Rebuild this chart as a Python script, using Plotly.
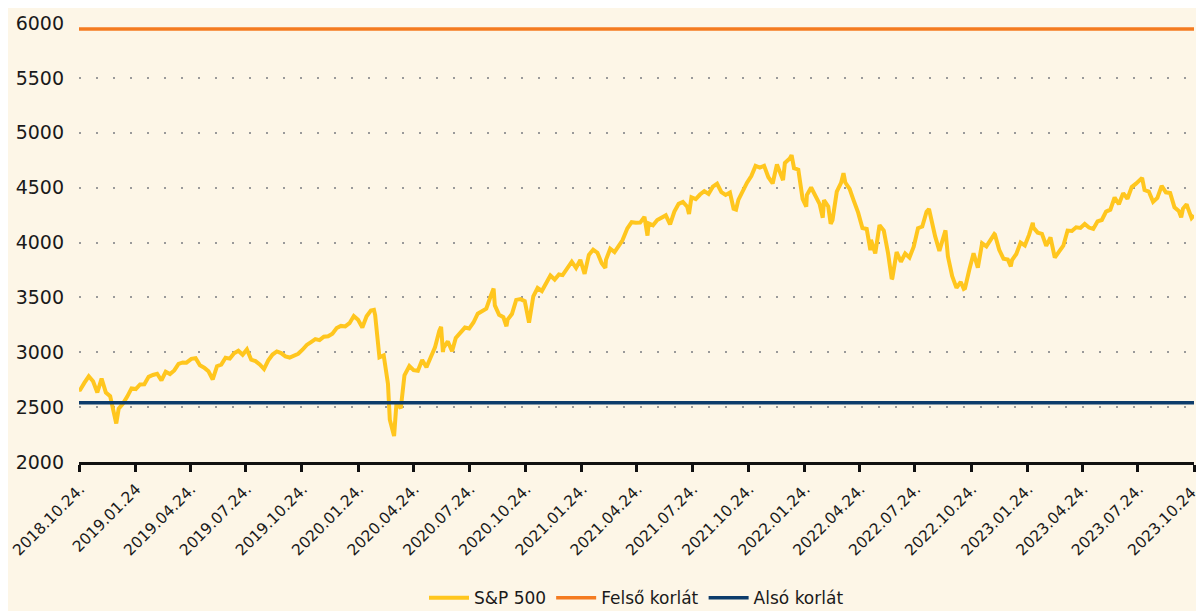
import plotly.graph_objects as go

dates = [
    "2018-10-24", "2018-10-26", "2018-11-02", "2018-11-09", "2018-11-16", "2018-11-23", "2018-11-30",
    "2018-12-07", "2018-12-14", "2018-12-21", "2018-12-24", "2018-12-28",
    "2019-01-04", "2019-01-11", "2019-01-18", "2019-01-25", "2019-02-01", "2019-02-08", "2019-02-15",
    "2019-02-22", "2019-03-01", "2019-03-08", "2019-03-15", "2019-03-22", "2019-03-29", "2019-04-05",
    "2019-04-12", "2019-04-18", "2019-04-26", "2019-05-03", "2019-05-10", "2019-05-17", "2019-05-24",
    "2019-05-31", "2019-06-07", "2019-06-14", "2019-06-21", "2019-06-28", "2019-07-05", "2019-07-12",
    "2019-07-19", "2019-07-26", "2019-08-02", "2019-08-09", "2019-08-16", "2019-08-23", "2019-08-30",
    "2019-09-06", "2019-09-13", "2019-09-20", "2019-09-27", "2019-10-04", "2019-10-11", "2019-10-18",
    "2019-10-25", "2019-11-01", "2019-11-08", "2019-11-15", "2019-11-22", "2019-11-29", "2019-12-06",
    "2019-12-13", "2019-12-20", "2019-12-27",
    "2020-01-03", "2020-01-10", "2020-01-17", "2020-01-24", "2020-01-31", "2020-02-07", "2020-02-14",
    "2020-02-19", "2020-02-21", "2020-02-28", "2020-03-06", "2020-03-13", "2020-03-16", "2020-03-20",
    "2020-03-23", "2020-03-27", "2020-04-03", "2020-04-09", "2020-04-17", "2020-04-24", "2020-05-01",
    "2020-05-08", "2020-05-15", "2020-05-22", "2020-05-29", "2020-06-05", "2020-06-08", "2020-06-11",
    "2020-06-12", "2020-06-19", "2020-06-26", "2020-07-02", "2020-07-10", "2020-07-17", "2020-07-24",
    "2020-07-31", "2020-08-07", "2020-08-14", "2020-08-21", "2020-08-28", "2020-09-02", "2020-09-04",
    "2020-09-11", "2020-09-18", "2020-09-23", "2020-09-25", "2020-10-02", "2020-10-09", "2020-10-16",
    "2020-10-23", "2020-10-30", "2020-11-06", "2020-11-13", "2020-11-20", "2020-11-27", "2020-12-04",
    "2020-12-11", "2020-12-18", "2020-12-24", "2020-12-31",
    "2021-01-08", "2021-01-15", "2021-01-22", "2021-01-29", "2021-02-05", "2021-02-12", "2021-02-19",
    "2021-02-26", "2021-03-04", "2021-03-05", "2021-03-12", "2021-03-19", "2021-03-26", "2021-04-01",
    "2021-04-09", "2021-04-16", "2021-04-23", "2021-04-30", "2021-05-07", "2021-05-12", "2021-05-14",
    "2021-05-21", "2021-05-28", "2021-06-04", "2021-06-11", "2021-06-18", "2021-06-25", "2021-07-02",
    "2021-07-09", "2021-07-16", "2021-07-19", "2021-07-23", "2021-07-30", "2021-08-06", "2021-08-13",
    "2021-08-20", "2021-08-27", "2021-09-03", "2021-09-10", "2021-09-17", "2021-09-24", "2021-09-30",
    "2021-10-04", "2021-10-08", "2021-10-15", "2021-10-22", "2021-10-29", "2021-11-05", "2021-11-12",
    "2021-11-19", "2021-11-26", "2021-11-30", "2021-12-03", "2021-12-10", "2021-12-17", "2021-12-20",
    "2021-12-23", "2021-12-31",
    "2022-01-03", "2022-01-07", "2022-01-14", "2022-01-21", "2022-01-27", "2022-01-28", "2022-02-04",
    "2022-02-11", "2022-02-18", "2022-02-23", "2022-02-25", "2022-03-04", "2022-03-08", "2022-03-11",
    "2022-03-18", "2022-03-25", "2022-03-29", "2022-04-01", "2022-04-08", "2022-04-14", "2022-04-22",
    "2022-04-29", "2022-05-06", "2022-05-12", "2022-05-13", "2022-05-20", "2022-05-27", "2022-06-03",
    "2022-06-10", "2022-06-16", "2022-06-17", "2022-06-24", "2022-07-01", "2022-07-08", "2022-07-15",
    "2022-07-22", "2022-07-29", "2022-08-05", "2022-08-12", "2022-08-16", "2022-08-19", "2022-08-26",
    "2022-09-02", "2022-09-09", "2022-09-12", "2022-09-16", "2022-09-23", "2022-09-30", "2022-10-07",
    "2022-10-12", "2022-10-14", "2022-10-21", "2022-10-28", "2022-11-04", "2022-11-11", "2022-11-18",
    "2022-11-25", "2022-12-01", "2022-12-02", "2022-12-09", "2022-12-16", "2022-12-23", "2022-12-28",
    "2022-12-30",
    "2023-01-06", "2023-01-13", "2023-01-20", "2023-01-27", "2023-02-02", "2023-02-03", "2023-02-10",
    "2023-02-17", "2023-02-24", "2023-03-03", "2023-03-10", "2023-03-17", "2023-03-24", "2023-03-31",
    "2023-04-07", "2023-04-14", "2023-04-21", "2023-04-28", "2023-05-05", "2023-05-12", "2023-05-19",
    "2023-05-26", "2023-06-02", "2023-06-09", "2023-06-16", "2023-06-23", "2023-06-30", "2023-07-07",
    "2023-07-14", "2023-07-21", "2023-07-28", "2023-07-31", "2023-08-04", "2023-08-11", "2023-08-18",
    "2023-08-25", "2023-09-01", "2023-09-08", "2023-09-15", "2023-09-22", "2023-09-29", "2023-10-03",
    "2023-10-06", "2023-10-12", "2023-10-13", "2023-10-20", "2023-10-24",
]

sp500 = [
    2656, 2658, 2723, 2781, 2736, 2633, 2760,
    2633, 2600, 2417, 2351, 2486,
    2532, 2596, 2671, 2665, 2707, 2708, 2776,
    2793, 2804, 2743, 2822, 2801, 2834, 2893,
    2907, 2905, 2940, 2946, 2881, 2860, 2826,
    2752, 2873, 2887, 2950, 2942, 2990, 3014,
    2977, 3026, 2932, 2919, 2889, 2847, 2926,
    2979, 3007, 2992, 2962, 2952, 2970, 2986,
    3023, 3067, 3093, 3120, 3110, 3141, 3146,
    3169, 3221, 3240,
    3235, 3265, 3330, 3295, 3226, 3328, 3380,
    3386, 3338, 2954, 2972, 2711, 2386, 2305,
    2237, 2541, 2489, 2790, 2875, 2837, 2831,
    2930, 2864, 2955, 3044, 3194, 3232, 3002,
    3041, 3098, 3009, 3130, 3185, 3225, 3216,
    3271, 3351, 3373, 3397, 3508, 3580, 3427,
    3341, 3319, 3237, 3298, 3348, 3477, 3484,
    3465, 3270, 3510, 3585, 3558, 3638, 3699,
    3663, 3709, 3703, 3756,
    3825, 3768, 3841, 3714, 3887, 3934, 3907,
    3811, 3768, 3842, 3943, 3913, 3975, 4020,
    4129, 4185, 4180, 4181, 4233, 4063, 4174,
    4156, 4204, 4230, 4247, 4166, 4281, 4352,
    4370, 4327, 4259, 4412, 4395, 4437, 4468,
    4442, 4509, 4535, 4459, 4433, 4455, 4308,
    4300, 4391, 4471, 4545, 4605, 4698, 4683,
    4698, 4595, 4567, 4538, 4712, 4620, 4568,
    4725, 4766,
    4796, 4677, 4663, 4398, 4327, 4432, 4501,
    4419, 4349, 4226, 4385, 4329, 4170, 4204,
    4463, 4543, 4632, 4546, 4488, 4393, 4272,
    4132, 4123, 3930, 4024, 3901, 4158, 4109,
    3901, 3667, 3675, 3912, 3825, 3899, 3863,
    3962, 4130, 4145, 4280, 4305, 4228, 4058,
    3924, 4067, 4110, 3873, 3693, 3586, 3640,
    3577, 3583, 3752, 3901, 3771, 3993, 3965,
    4026, 4077, 4072, 3934, 3852, 3845, 3783,
    3840,
    3895, 3999, 3973, 4071, 4180, 4136, 4090,
    4079, 3970, 4046, 3862, 3917, 3971, 4109,
    4105, 4138, 4133, 4169, 4136, 4124, 4192,
    4205, 4282, 4299, 4410, 4348, 4450, 4399,
    4505, 4536, 4582, 4589, 4478, 4464, 4370,
    4406, 4516, 4457, 4450, 4320, 4288, 4229,
    4309, 4349, 4328, 4224, 4248,
]

upper_limit = 5945
lower_limit = 2540

tick_dates = [
    "2018-10-24", "2019-01-24", "2019-04-24", "2019-07-24", "2019-10-24",
    "2020-01-24", "2020-04-24", "2020-07-24", "2020-10-24",
    "2021-01-24", "2021-04-24", "2021-07-24", "2021-10-24",
    "2022-01-24", "2022-04-24", "2022-07-24", "2022-10-24",
    "2023-01-24", "2023-04-24", "2023-07-24", "2023-10-24",
]
tick_labels = [
    "2018.10.24.", "2019.01.24", "2019.04.24.", "2019.07.24.", "2019.10.24.",
    "2020.01.24.", "2020.04.24.", "2020.07.24.", "2020.10.24.",
    "2021.01.24.", "2021.04.24.", "2021.07.24.", "2021.10.24.",
    "2022.01.24.", "2022.04.24.", "2022.07.24.", "2022.10.24.",
    "2023.01.24.", "2023.04.24.", "2023.07.24.", "2023.10.24.",
]
y_ticks = [2000, 2500, 3000, 3500, 4000, 4500, 5000, 5500, 6000]

x_start, x_end = dates[0], dates[-1]

fig = go.Figure()
fig.add_trace(go.Scatter(x=dates, y=sp500, mode="lines", name="S&P 500",
                         line=dict(color="#FFC61E", width=4)))
fig.add_trace(go.Scatter(x=[x_start, x_end], y=[upper_limit, upper_limit], mode="lines",
                         name="Felső korlát", line=dict(color="#F47B20", width=3.5)))
fig.add_trace(go.Scatter(x=[x_start, x_end], y=[lower_limit, lower_limit], mode="lines",
                         name="Alsó korlát", line=dict(color="#0D3C6B", width=3.5)))

fig.update_layout(
    width=1196, height=603,
    margin=dict(l=71, r=10, t=15, b=149, autoexpand=False),
    paper_bgcolor="#FDF6E7",
    plot_bgcolor="rgba(0,0,0,0)",
    font=dict(family="DejaVu Sans, sans-serif", color="#1a1a1a", size=16),
    showlegend=True,
    legend=dict(orientation="h", x=0.5, xanchor="center", y=-0.31, yanchor="middle",
                font=dict(size=17), bgcolor="rgba(0,0,0,0)",
                traceorder="normal", itemwidth=40),
    xaxis=dict(
        type="date", range=[x_start + " 00:00", x_end + " 00:00"], automargin=False,
        tickvals=tick_dates, ticktext=tick_labels, tickangle=-45,
        ticklabeloverflow="allow", ticklabelshift=1, ticklabelstandoff=2,
        showgrid=False, showline=True, linecolor="#111111", linewidth=3,
        ticks="outside", ticklen=7, tickwidth=3, tickcolor="#111111",
        tickfont=dict(size=15.5), zeroline=False,
    ),
    yaxis=dict(
        range=[2000, 6000], tickvals=y_ticks, showgrid=True, automargin=False,
        gridcolor="#9a9a9a", gridwidth=1.5, griddash="2px,15px",
        showline=False, zeroline=False, ticks="", tickfont=dict(size=19),
        ticklabelstandoff=14,
    ),
)

fig.write_html("out.html")
